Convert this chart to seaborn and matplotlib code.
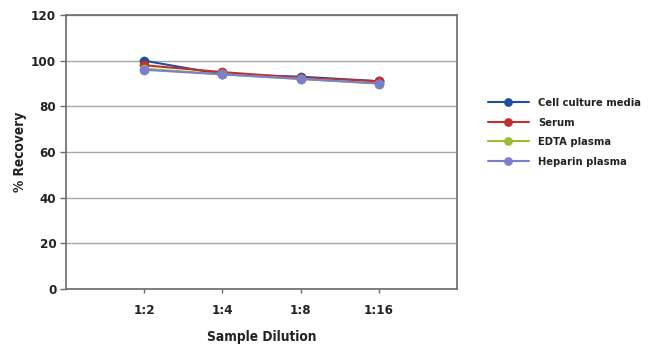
import pandas as pd
import numpy as np
import matplotlib
matplotlib.use('Agg')
import matplotlib.pyplot as plt
import seaborn as sns

# data
dilutions = ['1:2', '1:4', '1:8', '1:16']
cell_culture = [100, 94, 93, 91]
serum = [98, 95, 92.5, 91]
edta = [96.5, 94, 92, 90]
heparin = [96, 94, 92, 90]

series_names = ['Cell culture media', 'Serum', 'EDTA plasma', 'Heparin plasma']
colors = ['#1f4f9e', '#c0302c', '#9dbb35', '#7c80cc']

rows = []
for name, vals in zip(series_names, [cell_culture, serum, edta, heparin]):
    for i, (d, v) in enumerate(zip(dilutions, vals)):
        rows.append({'pos': i + 1, 'dilution': d, 'series': name, 'recovery': v})
df = pd.DataFrame(rows)

sns.set_theme(style='white')
plt.rcParams['font.family'] = ['DejaVu Sans']
plt.rcParams['font.stretch'] = 'condensed'

fig = plt.figure(figsize=(6.5, 3.58), dpi=100)
ax = fig.add_axes([0.1015, 0.193, 0.6015, 0.765])

sns.lineplot(data=df, x='pos', y='recovery', hue='series', hue_order=series_names,
             palette=colors, marker='o', markersize=7, markeredgewidth=0,
             linewidth=1.5, ax=ax)

ax.set_xlim(0, 5)
ax.set_ylim(0, 120)
ax.set_yticks(range(0, 121, 20))
ax.set_xticks(range(1, 5))
ax.set_xticklabels(dilutions)
ax.yaxis.grid(True, color='#a8a8a8', linewidth=1)
ax.set_axisbelow(True)
for s in ax.spines.values():
    s.set_color('#6a6a6a')
    s.set_linewidth(1.2)
ax.tick_params(axis='x', length=3, width=1, color='#6a6a6a', direction='out', bottom=True, pad=8)
ax.tick_params(axis='y', length=4, width=1, color='#6a6a6a', direction='out', left=True, pad=3)
for lab in ax.get_xticklabels() + ax.get_yticklabels():
    lab.set_fontweight('bold')
    lab.set_fontsize(9.5)
    lab.set_color('#222222')
    lab.set_fontstretch('condensed')

ax.set_xlabel('Sample Dilution', fontsize=9.8, fontweight='bold', color='#222222',
              labelpad=9, fontstretch='condensed')
ax.set_ylabel('% Recovery', fontsize=9.8, fontweight='bold', color='#222222',
              labelpad=3, fontstretch='condensed')

leg = ax.legend(loc='center left', bbox_to_anchor=(1.079, 0.571), frameon=False,
                borderaxespad=0, borderpad=0,
                prop={'weight': 'bold', 'size': 8, 'stretch': 'condensed'},
                handlelength=3.7, labelspacing=0.85, handletextpad=0.8,
                markerscale=0.9)
for t in leg.get_texts():
    t.set_color('#222222')

fig.savefig('out.png', dpi=100)
